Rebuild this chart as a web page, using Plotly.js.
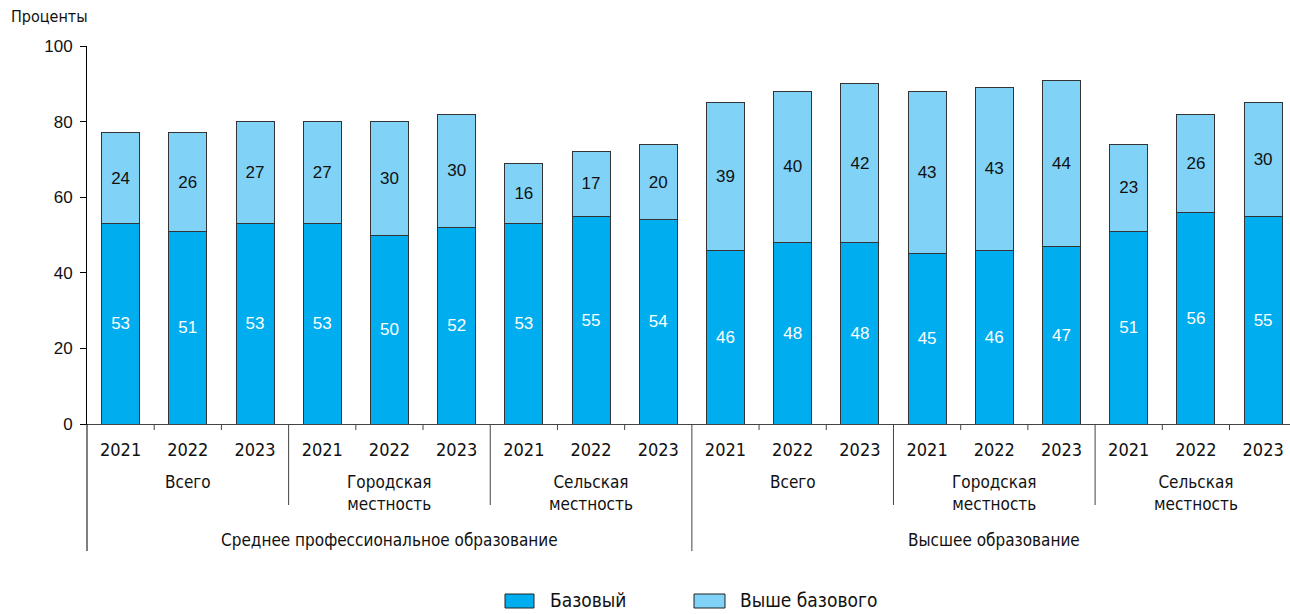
<!DOCTYPE html>
<html>
<head>
<meta charset="utf-8">
<script src="https://cdn.plot.ly/plotly-3.0.1.min.js"></script>
<style>html,body{margin:0;padding:0;background:#fff;}#chart{width:1290px;height:614px;}</style>
</head>
<body>
<div id="chart"></div>
<script>
const years = ["2021","2022","2023","2021","2022","2023","2021","2022","2023","2021","2022","2023","2021","2022","2023","2021","2022","2023"];
const groupLabels = ["Всего","Городская<br>местность","Сельская<br>местность","Всего","Городская<br>местность","Сельская<br>местность"];
const levelLabels = ["Среднее профессиональное образование","Высшее образование"];
const baseVals = [53,51,53,53,50,52,53,55,54,46,48,48,45,46,47,51,56,55];
const aboveVals = [24,26,27,27,30,30,16,17,20,39,40,42,43,43,44,23,26,30];
const seriesNames = ["Базовый","Выше базового"];
const colors = ["#00aeef","#80d3f7"];

const FONT = "'DejaVu Sans Condensed', 'DejaVu Sans', sans-serif";
const NUMFONT = "'Liberation Sans', Arial, sans-serif";

const xs = years.map((_, i) => i);
const perGroup = 3;

const traces = [
  {type:'bar', x: xs, y: baseVals, name: seriesNames[0], marker:{color:colors[0], line:{color:'#333', width:1}},
   text: baseVals.map(String), textposition:'inside', insidetextanchor:'middle', textangle:0, constraintext:'none',
   textfont:{family:NUMFONT, size:17, color:'#fff'}, hoverinfo:'skip'},
  {type:'bar', x: xs, y: aboveVals, name: seriesNames[1], marker:{color:colors[1], line:{color:'#333', width:1}},
   text: aboveVals.map(String), textposition:'inside', insidetextanchor:'middle', textangle:0, constraintext:'none',
   textfont:{family:NUMFONT, size:17, color:'#111'}, hoverinfo:'skip'}
];

const L = 87, W = 1203, T = 46, H = 378;
const py = p => (T + H - p) / H;
const px = p => (p - L) / W;

const shapes = [];
const annotations = [];
for (let k = 0; k < years.length - 1; k++) {
  const b = k + 0.5;
  const idx = k + 1;
  let end = 430;
  if (idx % (perGroup*3) === 0) end = 551;
  else if (idx % perGroup === 0) end = 505;
  shapes.push({type:'line', xref:'x', yref:'paper', x0:b, x1:b, y0:0, y1:py(end), line:{color:'#444', width:1}});
}
shapes.push({type:'line', xref:'paper', yref:'paper', x0:0, x1:0, y0:0, y1:py(551), line:{color:'#000', width:1}});

groupLabels.forEach((g, i) => {
  annotations.push({xref:'x', yref:'paper', x: i*perGroup + 1, y: py(470), yanchor:'top', text:g, showarrow:false,
    font:{family:FONT, size:17, color:'#111'}, align:'center'});
});
levelLabels.forEach((g, i) => {
  annotations.push({xref:'x', yref:'paper', x: i*perGroup*3 + 4, y: py(540), yanchor:'middle', text:g, showarrow:false,
    font:{family:FONT, size:17, color:'#111'}});
});
annotations.push({xref:'paper', yref:'paper', x: px(9), y: py(17), xanchor:'left', yanchor:'middle', text:'Проценты', showarrow:false,
  font:{family:FONT, size:16, color:'#111'}});

const legendItems = [{x0:505, x1:534, tx:548},{x0:694, x1:725, tx:738}];
legendItems.forEach((it, i) => {
  shapes.push({type:'rect', xref:'paper', yref:'paper', x0:px(it.x0), x1:px(it.x1), y0:py(608), y1:py(594),
    fillcolor:colors[i], line:{color:'#222', width:1}});
  annotations.push({xref:'paper', yref:'paper', x:px(it.tx), y:py(600), xanchor:'left', yanchor:'middle', text:seriesNames[i],
    showarrow:false, font:{family:FONT, size:19, color:'#111'}});
});

const layout = {
  width:1290, height:614,
  margin:{l:L, r:0, t:T, b:614-T-H},
  barmode:'stack', bargap:0.435,
  showlegend:false,
  paper_bgcolor:'#fff', plot_bgcolor:'#fff',
  xaxis:{range:[-0.5, 17.4], tickvals: xs, ticktext: years, ticks:'', showgrid:false, zeroline:false,
    showline:true, linecolor:'#444', linewidth:1, ticklabelstandoff:9,
    tickfont:{family:FONT, size:18, color:'#111'}, fixedrange:true},
  yaxis:{range:[0,100], tickvals:[0,20,40,60,80,100], ticks:'outside', ticklen:6, tickcolor:'#000',
    showline:true, linecolor:'#000', linewidth:1, showgrid:false, zeroline:false,
    tickfont:{family:NUMFONT, size:17, color:'#111'}, ticklabelstandoff:4, fixedrange:true},
  shapes: shapes,
  annotations: annotations
};

Plotly.newPlot('chart', traces, layout, {displayModeBar:false, staticPlot:true});
</script>
</body>
</html>
